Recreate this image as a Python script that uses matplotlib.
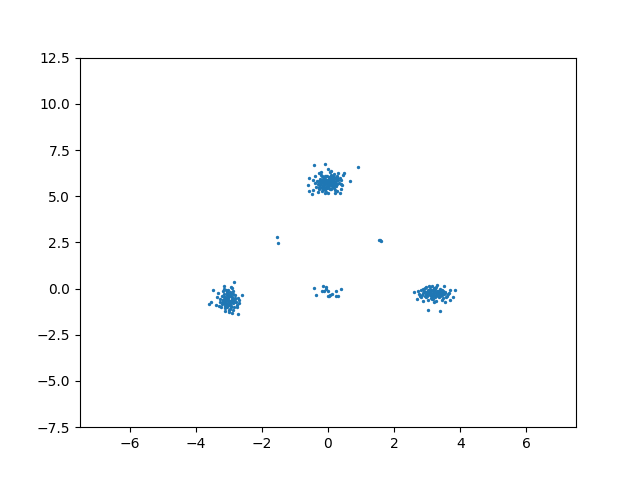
import matplotlib
matplotlib.use("Agg")
import matplotlib.pyplot as plt

# cluster near (0, 5.75)
top_x = [-0.41, -0.08, 0.92, 0.49, 0.67, -0.57, -0.60, -0.57, -0.49, 0.39, 0.37,
         0.00, 0.05, -0.05, 0.10, -0.10, 0.15, -0.15, 0.20, -0.20, 0.02, -0.02,
         0.12, -0.12, 0.25, -0.25, 0.08, -0.08, 0.30, -0.30, 0.18, -0.18, 0.28,
         -0.28, 0.22, -0.22, 0.33, -0.33, 0.05, -0.05, 0.14, -0.14, 0.26, -0.26,
         0.07, -0.07, 0.35, -0.35, 0.10, -0.10, 0.30, -0.30, 0.20, -0.20, 0.38,
         -0.38, 0.00, 0.00, 0.40, -0.40, 0.16, -0.16, 0.03, -0.03, 0.24, -0.24,
         0.11, -0.11, 0.06, -0.06, 0.19, -0.19, 0.28, -0.28, 0.42, -0.44, 0.45, -0.45,
         # dense core
         -0.04, 0.04, -0.09, 0.09, -0.13, 0.13, -0.17, 0.17, -0.21, 0.21,
         -0.01, 0.01, -0.06, 0.06, -0.11, 0.11, -0.16, 0.16, -0.23, 0.23,
         -0.02, 0.02, -0.07, 0.07, -0.12, 0.12, -0.18, 0.18, -0.27, 0.27,
         -0.03, 0.03, -0.08, 0.08, -0.14, 0.14, -0.19, 0.19, -0.24, 0.24]
top_y = [6.70, 6.75, 6.57, 6.25, 5.83, 5.98, 5.58, 5.29, 5.11, 5.65, 5.16,
         5.75, 5.80, 5.70, 5.65, 5.85, 5.90, 5.60, 5.75, 5.75, 5.95, 5.55,
         6.05, 5.45, 5.55, 5.95, 6.15, 5.35, 5.85, 5.65, 6.20, 5.30, 6.10,
         5.40, 5.35, 6.15, 5.70, 5.80, 6.30, 5.25, 5.48, 6.02, 5.98, 5.52,
         5.40, 6.10, 6.00, 5.50, 6.38, 5.20, 6.25, 5.22, 5.20, 6.30, 5.40,
         6.10, 6.45, 5.15, 5.90, 5.70, 5.78, 5.72, 5.62, 5.88, 5.82, 5.68,
         5.92, 5.58, 6.00, 5.50, 5.60, 5.90, 5.30, 6.25, 5.60, 5.85, 6.15, 5.35,
         5.66, 5.84, 5.92, 5.58, 5.78, 5.72, 5.52, 5.98, 5.86, 5.64,
         5.60, 5.90, 5.80, 5.70, 5.68, 5.82, 5.88, 5.62, 5.58, 5.92,
         6.08, 5.42, 5.44, 6.06, 5.96, 5.54, 5.80, 5.70, 5.82, 5.68,
         5.46, 6.04, 6.12, 5.38, 5.38, 6.12, 6.08, 5.42, 5.46, 6.04]

# cluster near (-3.0, -0.6)
left_x = [-3.59, -3.47, -2.83, -2.71, -2.61, -3.14, -3.55, -3.40, -2.90,
          -3.02, -2.98, -3.06, -2.94, -3.10, -2.90, -3.14, -2.86, -3.00, -3.04,
          -2.96, -3.18, -2.82, -3.08, -2.92, -3.22, -2.78, -3.12, -2.88, -3.26,
          -2.74, -3.00, -3.02, -3.16, -2.84, -3.05, -2.95, -3.20, -2.80, -3.28,
          -2.72, -3.10, -2.90, -3.32, -2.70, -3.00, -3.08, -2.94, -3.24, -2.86,
          -3.35, -2.68, -3.15, -2.99, -3.01, -2.89, -3.11, -3.30, -2.76, -3.18, -2.92,
          # dense core
          -3.03, -2.97, -3.07, -2.93, -3.11, -2.89, -3.15, -2.85, -3.01, -2.99,
          -3.05, -2.95, -3.09, -2.91, -3.13, -2.87, -3.17, -2.83, -3.04, -2.96,
          -3.06, -2.94, -3.10, -2.90, -3.02, -2.98, -3.14, -2.86, -3.19, -2.81]
left_y = [-0.83, -0.08, 0.37, -1.39, -0.35, 0.16, -0.75, -0.90, -1.30,
          -0.60, -0.65, -0.55, -0.70, -0.50, -0.45, -0.75, -0.80, -0.35, -0.85,
          -0.40, -0.62, -0.58, -0.95, -0.25, -0.40, -0.70, -1.05, -0.15, -0.55,
          -0.90, -1.15, -0.05, -0.30, -1.00, -0.20, -1.10, -0.85, -0.35, -0.70,
          -0.50, -1.20, 0.05, -0.25, -0.60, -1.25, -0.10, -0.95, -1.00, -1.15,
          -0.45, -0.80, 0.00, -0.72, -0.48, -0.62, -0.82, -0.95, -1.00, -0.15, 0.10,
          -0.52, -0.68, -0.78, -0.42, -0.58, -0.62, -0.48, -0.72, -0.88, -0.32,
          -0.36, -0.84, -0.66, -0.54, -0.92, -0.28, -0.64, -0.56, -1.02, -0.18,
          -0.22, -0.98, -0.46, -0.74, -0.30, -0.90, -0.60, -0.60, -0.70, -0.50]

# cluster near (3.2, -0.25)
right_x = [2.60, 2.68, 3.84, 3.01, 3.39, 3.77, 3.70, 3.55,
           3.20, 3.25, 3.15, 3.30, 3.10, 3.35, 3.05, 3.40, 3.00, 3.45, 2.95,
           3.50, 2.90, 3.55, 2.85, 3.60, 2.80, 3.65, 2.75, 3.22, 3.18, 3.28,
           3.12, 3.38, 3.02, 3.48, 2.92, 3.58, 2.82, 3.68, 2.72, 3.26, 3.14,
           3.32, 3.08, 3.44, 2.98, 3.52, 2.88, 3.62, 2.78, 3.20, 3.10, 3.30,
           3.42, 2.96, 3.16, 3.24, 3.36, 3.04, 3.46, 2.86,
           # dense core
           3.21, 3.19, 3.27, 3.13, 3.33, 3.07, 3.39, 3.01, 3.45, 2.95,
           3.23, 3.17, 3.29, 3.11, 3.35, 3.05, 3.41, 2.99, 3.47, 2.93,
           3.25, 3.15, 3.31, 3.09, 3.37, 3.03, 3.43, 2.97, 3.53, 2.87]
right_y = [-0.17, -0.56, -0.08, -1.16, -1.21, -0.44, -0.60, -0.75,
           -0.25, -0.20, -0.30, -0.15, -0.35, -0.28, -0.10, -0.40, -0.22, -0.05,
           -0.45, -0.30, -0.12, -0.18, -0.32, -0.38, -0.08, -0.25, -0.28, 0.05,
           -0.55, 0.10, -0.50, 0.00, -0.60, -0.52, 0.02, -0.45, -0.48, -0.10,
           -0.15, -0.65, 0.15, -0.42, 0.08, -0.62, -0.38, 0.12, -0.02, -0.30,
           -0.40, -0.70, -0.05, 0.18, -0.20, 0.06, -0.58, -0.48, -0.12, 0.16,
           -0.35, -0.66,
           -0.18, -0.32, -0.26, -0.24, -0.14, -0.36, -0.30, -0.20, -0.22, -0.28,
           -0.40, -0.10, -0.36, -0.14, -0.24, -0.26, -0.16, -0.34, -0.12, -0.38,
           -0.04, -0.46, -0.20, -0.30, -0.44, -0.06, -0.32, -0.18, -0.26, -0.24]

# stray points between the clusters
mid_x = [-1.53, -1.50, 1.57, 1.60, 1.55,
         -0.41, -0.14, -0.05, -0.05, -0.17, -0.11, 0.01, -0.35, 0.01, 0.07,
         0.13, 0.04, 0.25, 0.40, 0.25, 0.31]
mid_y = [2.78, 2.45, 2.65, 2.58, 2.62,
         0.02, 0.12, 0.07, -0.01, -0.15, -0.15, -0.15, -0.36, -0.40, -0.36,
         -0.31, -0.38, -0.15, -0.04, -0.42, -0.42]

xs = top_x + left_x + right_x + mid_x
ys = top_y + left_y + right_y + mid_y

fig, ax = plt.subplots(figsize=(6.4, 4.8), dpi=100)
ax.scatter(xs, ys, s=2)
ax.set_xlim(-7.5, 7.5)
ax.set_ylim(-7.5, 12.5)
fig.savefig("out.png")
